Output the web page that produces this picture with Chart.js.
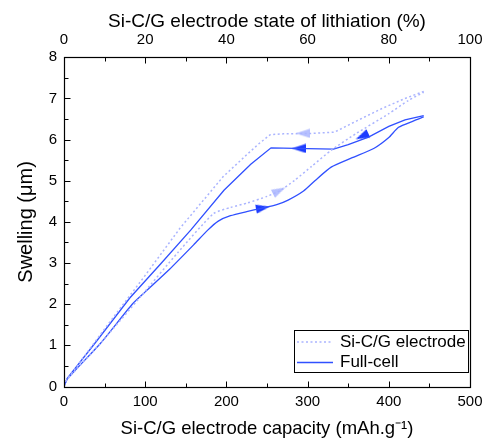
<!DOCTYPE html>
<html><head><meta charset="utf-8">
<script src="https://cdn.jsdelivr.net/npm/chart.js@4"></script>
<style>html,body{margin:0;padding:0;background:#fff}</style>
</head><body>
<canvas id="c" width="487" height="444"></canvas>
<script>
// ---- data ----
const fullChargeCap   = [0, 4, 45, 84, 100, 130, 160, 177, 190, 205, 225, 243, 262, 276, 295, 309, 329, 355, 382, 400, 412, 430, 443];
const fullChargeSwell = [0, 0.18, 1.05, 2.0, 2.3, 2.85, 3.45, 3.8, 4.02, 4.15, 4.25, 4.33, 4.42, 4.53, 4.75, 5.0, 5.33, 5.56, 5.79, 6.05, 6.3, 6.45, 6.55];
const fullDischCap    = [443, 420, 400, 375, 350, 332, 300, 255, 230, 197, 156, 120, 81, 40, 4, 0];
const fullDischSwell  = [6.58, 6.48, 6.32, 6.06, 5.88, 5.77, 5.78, 5.8, 5.4, 4.77, 3.8, 3.0, 2.15, 1.1, 0.2, 0];
const elecChargeCap   = [0, 3, 45, 95, 140, 184, 205, 226, 250, 267, 284, 305, 329, 360, 400, 424, 443];
const elecChargeSwell = [0, 0.15, 1.05, 2.2, 3.25, 4.2, 4.35, 4.46, 4.62, 4.77, 5.01, 5.35, 5.74, 6.15, 6.63, 6.95, 7.15];
const elecDischCap    = [443, 420, 391, 360, 333, 304, 270, 254, 240, 226, 196, 143, 100, 50, 3, 0];
const elecDischSwell  = [7.17, 7.0, 6.75, 6.45, 6.18, 6.15, 6.14, 6.12, 5.9, 5.65, 5.1, 3.85, 2.7, 1.4, 0.15, 0];
// arrows: position (capacity, swelling) and direction (deg)
const fullArrowCap   = [289, 367, 245];
const fullArrowSwell = [5.785, 6.08, 4.34];
const fullArrowDir   = [180, 155, -10];
const elecArrowCap   = [294, 265];
const elecArrowSwell = [6.15, 4.76];
const elecArrowDir   = [180, -27];
// axes
const xBottomRange = [0, 500], xBottomStep = 100, xBottomMinor = 50;
const xTopRange = [0, 100], xTopStep = 20, xTopMinor = 10;
const yRange = [0, 8], yStep = 1, yMinor = 0.5;
const seriesNames = ['Si-C/G electrode', 'Full-cell'];

const SOLID = '#3050ff', SOLID_ARROW = '#1d3cff', DOT = '#aab4ff', DOT_ARROW = '#b6c0ff';
const zip = (xs, ys) => xs.map((x, i) => ({x, y: ys[i]}));

function arrowImg(color) {
  const c = document.createElement('canvas'); c.width = 14; c.height = 10;
  const g = c.getContext('2d'); g.fillStyle = color;
  g.beginPath(); g.moveTo(14, 5); g.lineTo(0, 0.6); g.lineTo(0, 9.4); g.closePath(); g.fill();
  return c;
}

Chart.defaults.font.family = '"Liberation Sans", Arial, sans-serif';
Chart.defaults.color = '#000';

const lineDs = (label, data, color, dash, w, t) => ({label, data, showLine: true, borderColor: color, borderWidth: w,
  borderDash: dash, pointRadius: 0, tension: t, fill: false, xAxisID: 'x', yAxisID: 'y'});

const frameTicks = {
  id: 'frameTicks',
  afterDraw(chart) {
    const {ctx, chartArea: a, scales} = chart;
    ctx.save();
    ctx.strokeStyle = '#000'; ctx.lineWidth = 1;
    const L = Math.round(a.left) + 0.5, R = Math.round(a.right) + 0.5, T = Math.round(a.top) + 0.5, B = Math.round(a.bottom) + 0.5;
    ctx.beginPath();
    const steps = (lo, hi, st) => { const out = []; for (let v = lo; v <= hi + 1e-9; v += st) out.push(+v.toFixed(6)); return out; };
    steps(xBottomRange[0], xBottomRange[1], xBottomMinor).forEach(v => {
      const p = Math.round(scales.x.getPixelForValue(v)) + 0.5; const len = (v % xBottomStep === 0) ? 6 : 4;
      ctx.moveTo(p, B); ctx.lineTo(p, B - len);
    });
    steps(xTopRange[0], xTopRange[1], xTopMinor).forEach(v => {
      const p = Math.round(scales.x2.getPixelForValue(v)) + 0.5; const len = (v % xTopStep === 0) ? 6 : 4;
      ctx.moveTo(p, T); ctx.lineTo(p, T + len);
    });
    steps(yRange[0], yRange[1], yMinor).forEach(v => {
      const p = Math.round(scales.y.getPixelForValue(v)) + 0.5; const len = (Math.abs(v % yStep) < 1e-9) ? 6 : 4;
      ctx.moveTo(L, p); ctx.lineTo(L + len, p);
    });
    ctx.stroke();
    ctx.lineWidth = 1.2;
    ctx.strokeRect(L, T, R - L, B - T);
    // legend
    const bx = a.right - 176, by = a.bottom - 56.5, bw = 174, bh = 42;
    ctx.fillStyle = '#fff'; ctx.fillRect(bx, by, bw, bh);
    ctx.lineWidth = 1; ctx.strokeStyle = '#000';
    ctx.strokeRect(Math.round(bx) + 0.5, Math.round(by) + 0.5, bw, bh);
    const ds = chart.data.datasets;
    const rows = [{d: ds[0], y: by + 12, name: seriesNames[0]}, {d: ds[2], y: by + 32.5, name: seriesNames[1]}];
    rows.forEach(r => {
      ctx.beginPath(); ctx.strokeStyle = r.d.borderColor; ctx.lineWidth = r.d.borderWidth;
      ctx.setLineDash(r.d.borderDash || []);
      ctx.moveTo(bx + 3, r.y); ctx.lineTo(bx + 39, r.y); ctx.stroke();
      ctx.setLineDash([]);
      ctx.fillStyle = '#000'; ctx.font = '17px "Liberation Sans", Arial, sans-serif';
      ctx.textBaseline = 'middle'; ctx.textAlign = 'left';
      ctx.fillText(r.name, bx + 46, r.y);
    });
    ctx.restore();
  }
};

new Chart(document.getElementById('c'), {
  type: 'scatter',
  data: {datasets: [
    lineDs(seriesNames[0], zip(elecChargeCap, elecChargeSwell), DOT, [2, 2.5], 1.5, 0.2),
    lineDs(seriesNames[0] + ' (discharge)', zip(elecDischCap, elecDischSwell), DOT, [2, 2.5], 1.5, 0),
    lineDs(seriesNames[1], zip(fullChargeCap, fullChargeSwell), SOLID, [], 1.3, 0.2),
    lineDs(seriesNames[1] + ' (discharge)', zip(fullDischCap, fullDischSwell), SOLID, [], 1.3, 0),
    {label: 'elec arrows', data: zip(elecArrowCap, elecArrowSwell), showLine: false, pointStyle: arrowImg(DOT_ARROW), pointRadius: 5, pointRotation: elecArrowDir, xAxisID: 'x', yAxisID: 'y'},
    {label: 'full arrows', data: zip(fullArrowCap, fullArrowSwell), showLine: false, pointStyle: arrowImg(SOLID_ARROW), pointRadius: 5, pointRotation: fullArrowDir, xAxisID: 'x', yAxisID: 'y'}
  ]},
  options: {
    responsive: false, animation: false, devicePixelRatio: 1,
    layout: {padding: {left: 0, right: 17, top: 0, bottom: 0}},
    plugins: {legend: {display: false}, tooltip: {enabled: false}},
    scales: {
      x: {type: 'linear', position: 'bottom', min: xBottomRange[0], max: xBottomRange[1],
        ticks: {stepSize: xBottomStep, font: {size: 15}, color: '#000', padding: 6.8, maxRotation: 0},
        grid: {display: false, drawTicks: false}, border: {display: false},
        title: {display: true, text: 'Si-C/G electrode capacity (mAh.g⁻¹)', font: {size: 18.5}, color: '#000', padding: {top: 0, bottom: 4}},
        afterFit(s) { s.height = 57.5; s.paddingLeft = 0; s.paddingRight = 0; }},
      x2: {type: 'linear', position: 'top', min: xTopRange[0], max: xTopRange[1],
        ticks: {stepSize: xTopStep, font: {size: 15}, color: '#000', padding: 8.2, maxRotation: 0},
        grid: {display: false, drawTicks: false}, border: {display: false},
        title: {display: true, text: 'Si-C/G electrode state of lithiation (%)', font: {size: 19}, color: '#000', padding: {top: 10.5, bottom: 0}},
        afterFit(s) { s.height = 57.3; s.paddingLeft = 0; s.paddingRight = 0; }},
      y: {type: 'linear', position: 'left', min: yRange[0], max: yRange[1],
        ticks: {stepSize: yStep, font: {size: 15}, color: '#000', padding: 7},
        grid: {display: false, drawTicks: false}, border: {display: false},
        title: {display: true, text: 'Swelling (μm)', font: {size: 20}, color: '#000', padding: {top: 14, bottom: 0}},
        afterFit(s) { s.width = 64; s.paddingTop = 0; s.paddingBottom = 0; }}
    }
  },
  plugins: [frameTicks]
});
</script>
</body></html>
